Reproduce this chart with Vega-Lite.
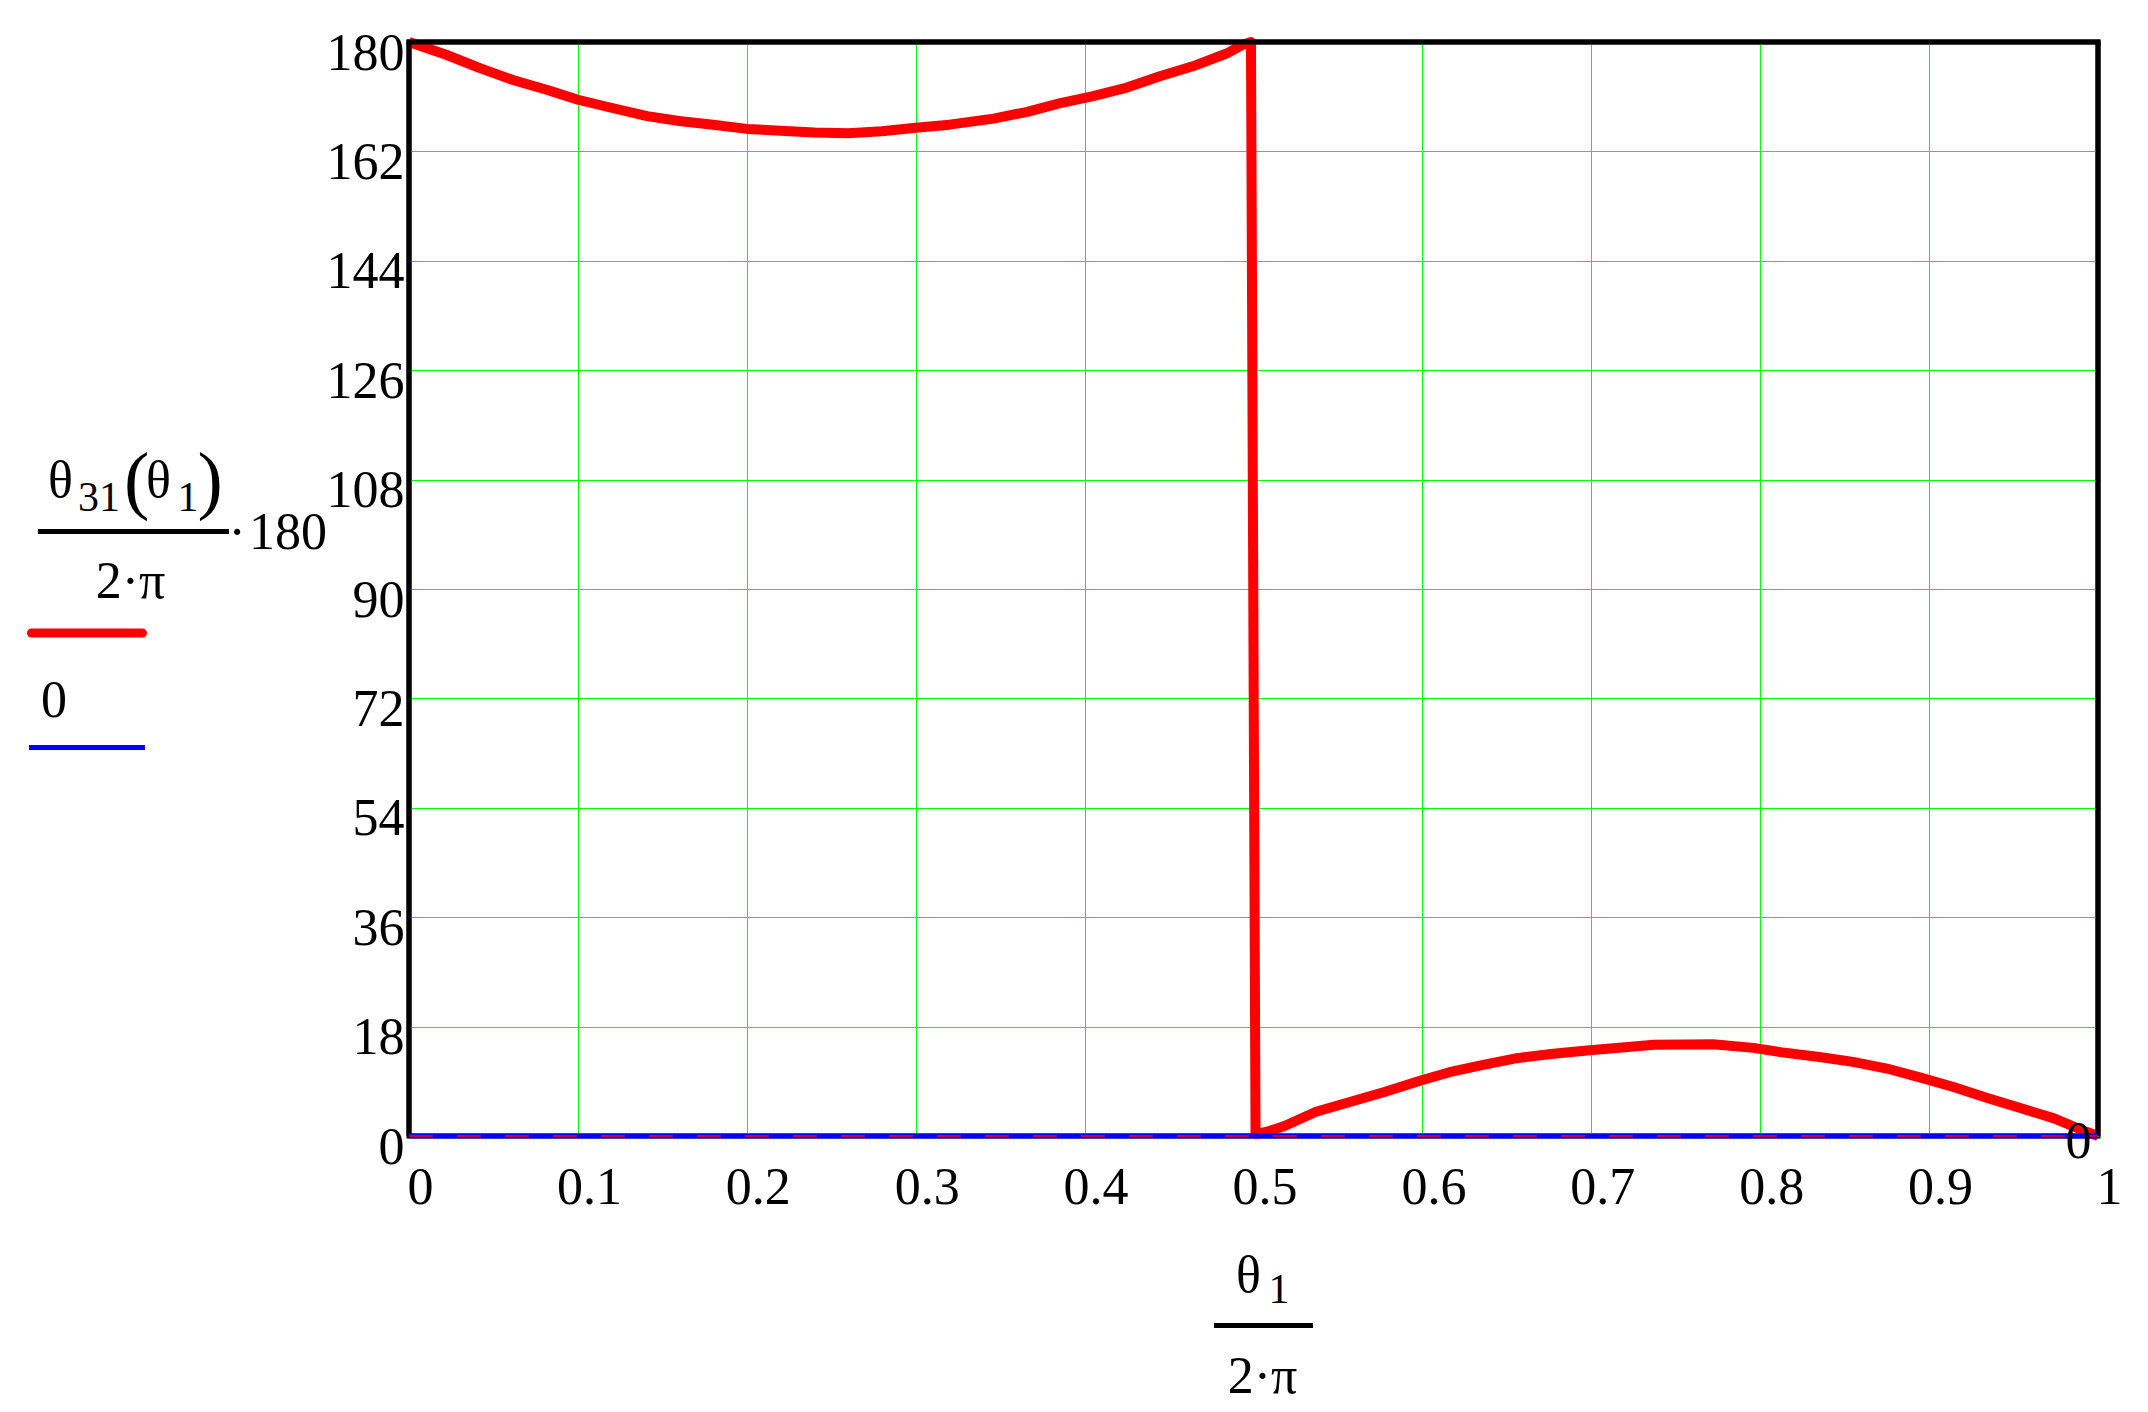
{
  "$schema": "https://vega.github.io/schema/vega-lite/v6.json",
  "width": 1689,
  "height": 1094,
  "autosize": {"type": "none"},
  "padding": {"left": 409, "top": 42, "right": 50, "bottom": 276},
  "background": "white",
  "config": {
    "view": {"stroke": "black", "strokeWidth": 5},
    "axis": {"domain": false, "ticks": false, "tickSize": 0, "grid": true, "gridColor": "#00ff00", "gridWidth": 1, "gridOpacity": 1, "labelFont": "Liberation Serif", "labelFontSize": 52, "labelColor": "black", "labelFlush": false, "labelOverlap": false, "labelBaseline": "alphabetic", "title": null},
    "text": {"font": "Liberation Serif", "color": "black", "baseline": "alphabetic"}
  },
  "datasets": {
    "theta31": [
      {"x": 0, "y": 180}, {"x": 0.022, "y": 177.9}, {"x": 0.042, "y": 175.7}, {"x": 0.062, "y": 173.7},
      {"x": 0.082, "y": 172.1}, {"x": 0.1, "y": 170.5}, {"x": 0.121, "y": 169.1}, {"x": 0.141, "y": 167.8},
      {"x": 0.16, "y": 167.0}, {"x": 0.18, "y": 166.4}, {"x": 0.2, "y": 165.7}, {"x": 0.22, "y": 165.4},
      {"x": 0.24, "y": 165.1}, {"x": 0.26, "y": 165.0}, {"x": 0.28, "y": 165.3}, {"x": 0.3, "y": 165.9},
      {"x": 0.32, "y": 166.4}, {"x": 0.346, "y": 167.4}, {"x": 0.366, "y": 168.5}, {"x": 0.385, "y": 169.9},
      {"x": 0.405, "y": 171.1}, {"x": 0.425, "y": 172.5}, {"x": 0.445, "y": 174.4}, {"x": 0.464, "y": 176.0},
      {"x": 0.484, "y": 178.1}, {"x": 0.494, "y": 179.6}, {"x": 0.4985, "y": 180},
      {"x": 0.5012, "y": 0.3}, {"x": 0.508, "y": 0.7}, {"x": 0.518, "y": 1.6}, {"x": 0.537, "y": 4.0},
      {"x": 0.557, "y": 5.6}, {"x": 0.577, "y": 7.2}, {"x": 0.6, "y": 9.2}, {"x": 0.616, "y": 10.5},
      {"x": 0.636, "y": 11.7}, {"x": 0.656, "y": 12.8}, {"x": 0.676, "y": 13.5}, {"x": 0.699, "y": 14.1},
      {"x": 0.72, "y": 14.6}, {"x": 0.737, "y": 15.0}, {"x": 0.772, "y": 15.1}, {"x": 0.796, "y": 14.5},
      {"x": 0.812, "y": 13.8}, {"x": 0.835, "y": 13.0}, {"x": 0.855, "y": 12.2}, {"x": 0.875, "y": 11.1},
      {"x": 0.895, "y": 9.6}, {"x": 0.914, "y": 8.1}, {"x": 0.934, "y": 6.3}, {"x": 0.954, "y": 4.6},
      {"x": 0.974, "y": 2.9}, {"x": 0.993, "y": 0.7}, {"x": 1, "y": 0}
    ],
    "zero": [{"x": 0, "y": 0}, {"x": 1, "y": 0}]
  },
  "layer": [
    {
      "data": {"name": "theta31"},
      "mark": {"type": "line", "color": "#ff0000", "strokeWidth": 10, "strokeJoin": "round"},
      "encoding": {
        "x": {"field": "x", "type": "quantitative", "title": null, "scale": {"domain": [0, 1], "nice": false, "zero": false},
              "axis": {"title": null, "values": [0, 0.1, 0.2, 0.3, 0.4, 0.5, 0.6, 0.7, 0.8, 0.9, 1], "format": "~g", "labelPadding": 67, "labelOffset": 11, "labelAlign": "center"}},
        "y": {"field": "y", "type": "quantitative", "title": null, "scale": {"domain": [0, 180], "nice": false, "zero": false},
              "axis": {"title": null, "values": [0, 18, 36, 54, 72, 90, 108, 126, 144, 162, 180], "format": "~g", "labelPadding": 5, "labelOffset": 27, "labelAlign": "right"}}
      }
    },
    {
      "data": {"values": [{"part": "frame left"}]},
      "mark": {"type": "rule", "color": "black", "strokeWidth": 5},
      "encoding": {
        "x": {"datum": 0, "type": "quantitative", "title": null},
        "y": {"datum": 0, "type": "quantitative", "title": null},
        "y2": {"datum": 180}
      }
    },
    {
      "data": {"values": [{"part": "frame right"}]},
      "mark": {"type": "rule", "color": "black", "strokeWidth": 5},
      "encoding": {
        "x": {"datum": 1, "type": "quantitative", "title": null},
        "y": {"datum": 0, "type": "quantitative", "title": null},
        "y2": {"datum": 180}
      }
    },
    {
      "data": {"values": [{"part": "frame top"}]},
      "mark": {"type": "rule", "color": "black", "strokeWidth": 5, "strokeCap": "square"},
      "encoding": {
        "x": {"datum": 0, "type": "quantitative", "title": null},
        "x2": {"datum": 1},
        "y": {"datum": 180, "type": "quantitative", "title": null}
      }
    },
    {
      "data": {"name": "zero"},
      "mark": {"type": "line", "color": "#0000ff", "strokeWidth": 5},
      "encoding": {
        "x": {"field": "x", "type": "quantitative", "title": null},
        "y": {"field": "y", "type": "quantitative", "title": null}
      }
    },
    {
      "data": {"values": [{"trace": "axis"}]},
      "mark": {"type": "rule", "color": "#ff0000", "strokeWidth": 1.5, "strokeDash": [24, 24]},
      "encoding": {
        "x": {"datum": 0, "type": "quantitative", "title": null},
        "x2": {"datum": 1},
        "y": {"datum": 0, "type": "quantitative", "title": null}
      }
    },
    {
      "data": {"values": [{"label": "θ"}]},
      "mark": {"type": "text", "fontSize": 52, "align": "left"},
      "encoding": {
        "x": {"datum": -0.2137, "type": "quantitative", "title": null},
        "y": {"datum": 105.14, "type": "quantitative", "title": null},
        "text": {"field": "label"}
      }
    },
    {
      "data": {"values": [{"label": "31"}]},
      "mark": {"type": "text", "fontSize": 42, "align": "left"},
      "encoding": {
        "x": {"datum": -0.196, "type": "quantitative", "title": null},
        "y": {"datum": 102.83, "type": "quantitative", "title": null},
        "text": {"field": "label"}
      }
    },
    {
      "data": {"values": [{"label": "("}]},
      "mark": {"type": "text", "fontSize": 76, "align": "left"},
      "encoding": {
        "x": {"datum": -0.1687, "type": "quantitative", "title": null},
        "y": {"datum": 103.9, "type": "quantitative", "title": null},
        "text": {"field": "label"}
      }
    },
    {
      "data": {"values": [{"label": "θ"}]},
      "mark": {"type": "text", "fontSize": 52, "align": "left"},
      "encoding": {
        "x": {"datum": -0.1557, "type": "quantitative", "title": null},
        "y": {"datum": 105.14, "type": "quantitative", "title": null},
        "text": {"field": "label"}
      }
    },
    {
      "data": {"values": [{"label": "1"}]},
      "mark": {"type": "text", "fontSize": 42, "align": "left"},
      "encoding": {
        "x": {"datum": -0.137, "type": "quantitative", "title": null},
        "y": {"datum": 102.83, "type": "quantitative", "title": null},
        "text": {"field": "label"}
      }
    },
    {
      "data": {"values": [{"label": ")"}]},
      "mark": {"type": "text", "fontSize": 76, "align": "left"},
      "encoding": {
        "x": {"datum": -0.1252, "type": "quantitative", "title": null},
        "y": {"datum": 103.9, "type": "quantitative", "title": null},
        "text": {"field": "label"}
      }
    },
    {
      "data": {"values": [{"part": "fraction bar"}]},
      "mark": {"type": "rule", "color": "black", "strokeWidth": 5},
      "encoding": {
        "x": {"datum": -0.2197, "type": "quantitative", "title": null},
        "x2": {"datum": -0.1066},
        "y": {"datum": 99.46, "type": "quantitative", "title": null}
      }
    },
    {
      "data": {"values": [{"label": "·"}]},
      "mark": {"type": "text", "fontSize": 52, "align": "center"},
      "encoding": {
        "x": {"datum": -0.1018, "type": "quantitative", "title": null},
        "y": {"datum": 96.58, "type": "quantitative", "title": null},
        "text": {"field": "label"}
      }
    },
    {
      "data": {"values": [{"label": "180"}]},
      "mark": {"type": "text", "fontSize": 52, "align": "left"},
      "encoding": {
        "x": {"datum": -0.0947, "type": "quantitative", "title": null},
        "y": {"datum": 96.58, "type": "quantitative", "title": null},
        "text": {"field": "label"}
      }
    },
    {
      "data": {"values": [{"label": "2·π"}]},
      "mark": {"type": "text", "fontSize": 52, "align": "center"},
      "encoding": {
        "x": {"datum": -0.1649, "type": "quantitative", "title": null},
        "y": {"datum": 88.52, "type": "quantitative", "title": null},
        "text": {"field": "label"}
      }
    },
    {
      "data": {"values": [{"trace": "theta31 legend"}]},
      "mark": {"type": "rule", "color": "#ff0000", "strokeWidth": 9, "strokeCap": "round"},
      "encoding": {
        "x": {"datum": -0.2235, "type": "quantitative", "title": null},
        "x2": {"datum": -0.1578},
        "y": {"datum": 82.76, "type": "quantitative", "title": null}
      }
    },
    {
      "data": {"values": [{"label": "0"}]},
      "mark": {"type": "text", "fontSize": 52, "align": "center"},
      "encoding": {
        "x": {"datum": -0.2102, "type": "quantitative", "title": null},
        "y": {"datum": 68.94, "type": "quantitative", "title": null},
        "text": {"field": "label"}
      }
    },
    {
      "data": {"values": [{"trace": "zero legend"}]},
      "mark": {"type": "rule", "color": "#0000ff", "strokeWidth": 5},
      "encoding": {
        "x": {"datum": -0.225, "type": "quantitative", "title": null},
        "x2": {"datum": -0.1563},
        "y": {"datum": 63.92, "type": "quantitative", "title": null}
      }
    },
    {
      "data": {"values": [{"label": "θ"}]},
      "mark": {"type": "text", "fontSize": 52, "align": "left"},
      "encoding": {
        "x": {"datum": 0.4896, "type": "quantitative", "title": null},
        "y": {"datum": -25.67, "type": "quantitative", "title": null},
        "text": {"field": "label"}
      }
    },
    {
      "data": {"values": [{"label": "1"}]},
      "mark": {"type": "text", "fontSize": 42, "align": "left"},
      "encoding": {
        "x": {"datum": 0.5089, "type": "quantitative", "title": null},
        "y": {"datum": -27.48, "type": "quantitative", "title": null},
        "text": {"field": "label"}
      }
    },
    {
      "data": {"values": [{"part": "fraction bar"}]},
      "mark": {"type": "rule", "color": "black", "strokeWidth": 5},
      "encoding": {
        "x": {"datum": 0.4766, "type": "quantitative", "title": null},
        "x2": {"datum": 0.5352},
        "y": {"datum": -31.18, "type": "quantitative", "title": null}
      }
    },
    {
      "data": {"values": [{"label": "2·π"}]},
      "mark": {"type": "text", "fontSize": 52, "align": "center"},
      "encoding": {
        "x": {"datum": 0.5053, "type": "quantitative", "title": null},
        "y": {"datum": -42.29, "type": "quantitative", "title": null},
        "text": {"field": "label"}
      }
    },
    {
      "data": {"values": [{"label": "0"}]},
      "mark": {"type": "text", "fontSize": 52, "align": "center"},
      "encoding": {
        "x": {"datum": 0.9885, "type": "quantitative", "title": null},
        "y": {"datum": -3.62, "type": "quantitative", "title": null},
        "text": {"field": "label"}
      }
    }
  ]
}
